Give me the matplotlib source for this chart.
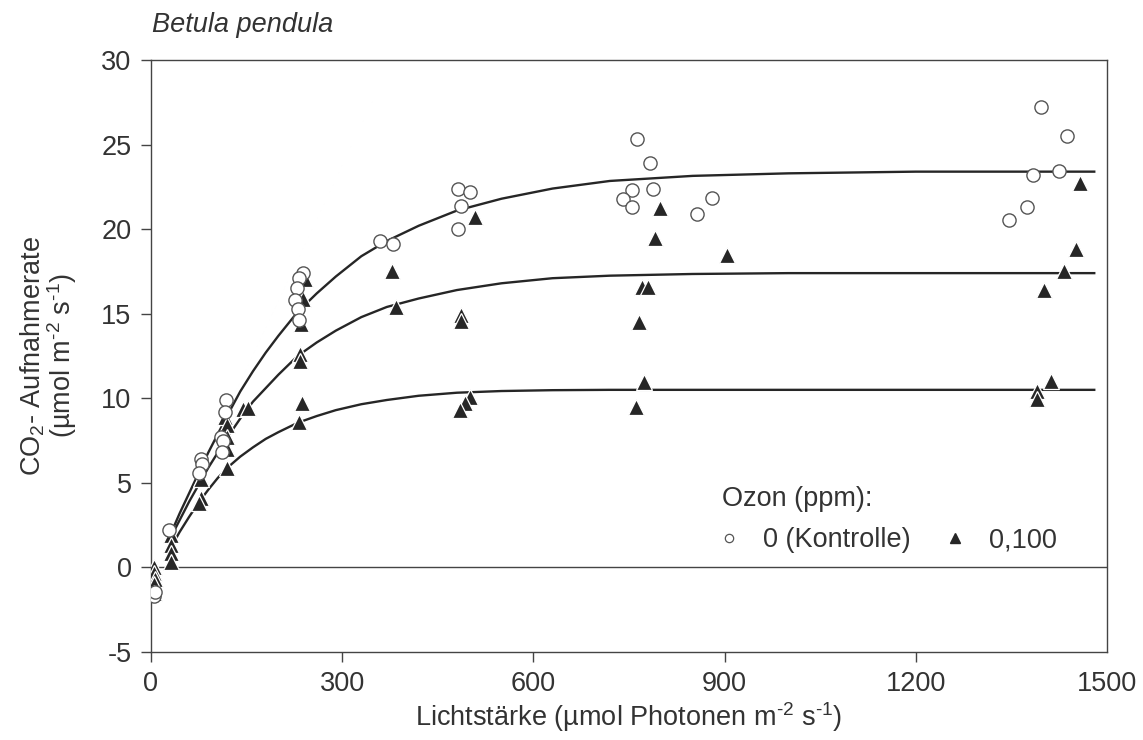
import matplotlib
matplotlib.use("Agg")
import matplotlib.pyplot as plt
from matplotlib.lines import Line2D

plt.rcParams["font.family"] = ["Liberation Sans", "DejaVu Sans"]
plt.rcParams["mathtext.fontset"] = "custom"
plt.rcParams["mathtext.rm"] = "Liberation Sans"
plt.rcParams["mathtext.it"] = "Liberation Sans:italic"
plt.rcParams["axes.unicode_minus"] = False

INK = "#262626"
TXT = "#333333"
FS = 19.5

# Measured uptake, control (0 ppm ozone)
ctrl_x = [5, 6, 29, 78, 80, 76, 118, 116, 110, 113, 112,
          239, 233, 229, 226, 231, 233, 359, 380,
          482, 500, 486, 482,
          763, 783, 754, 787, 740, 754, 856, 881,
          1397, 1438, 1384, 1425, 1374, 1347]
ctrl_y = [-1.7, -1.45, 2.2, 6.4, 6.1, 5.6, 9.9, 9.2, 7.7, 7.5, 6.8,
          17.4, 17.1, 16.5, 15.8, 15.3, 14.6, 19.3, 19.15,
          22.4, 22.2, 21.35, 20.0,
          25.35, 23.9, 22.3, 22.4, 21.8, 21.3, 20.9, 21.85,
          27.25, 25.5, 23.2, 23.45, 21.3, 20.55]

# Measured uptake, 0.100 ppm ozone
ozon_x = [5, 5, 6, 4, 5, 32, 32, 32, 32, 78, 78, 76,
          116, 120, 120, 120, 119, 145, 152,
          242, 239, 236, 234, 234, 237, 233, 378, 385,
          508, 487, 487, 500, 493, 485,
          799, 791, 904, 770, 780, 766, 773, 761,
          1457, 1452, 1433, 1401, 1412, 1390, 1390]
ozon_y = [0.0, -0.35, -0.7, -1.0, -1.5, 1.9, 1.35, 0.85, 0.35, 5.2, 4.1, 3.8,
          8.9, 8.4, 7.7, 7.0, 5.85, 9.35, 9.4,
          17.05, 15.9, 14.4, 12.6, 12.2, 9.7, 8.6, 17.55, 15.4,
          20.7, 14.9, 14.55, 10.05, 9.75, 9.3,
          21.25, 19.45, 18.5, 16.6, 16.6, 14.5, 10.95, 9.5,
          22.7, 18.85, 17.5, 16.4, 11.0, 10.45, 9.95]

# Fitted light-response curves
fit_x = [30, 45, 60, 75, 90, 105, 120, 140, 160, 180, 200, 230, 260, 290,
         330, 370, 420, 480, 550, 630, 720, 850, 1000, 1200, 1480]
fit_top = [1.9, 3.2, 4.4, 5.6, 6.8, 7.9, 9.0, 10.4, 11.6, 12.7, 13.7, 15.1, 16.2, 17.2,
           18.4, 19.3, 20.2, 21.1, 21.8, 22.4, 22.85, 23.15, 23.3, 23.4, 23.4]
fit_mid = [1.7, 2.8, 3.9, 4.9, 5.9, 6.8, 7.7, 8.8, 9.8, 10.6, 11.4, 12.5, 13.3, 14.0,
           14.8, 15.4, 15.9, 16.4, 16.8, 17.1, 17.25, 17.35, 17.4, 17.4, 17.4]
fit_low = [1.1, 2.1, 3.0, 3.85, 4.6, 5.3, 5.9, 6.55, 7.1, 7.6, 8.0, 8.55, 8.95, 9.3,
           9.65, 9.9, 10.15, 10.33, 10.43, 10.48, 10.5, 10.5, 10.5, 10.5, 10.5]

x_ticks = [0, 300, 600, 900, 1200, 1500]
y_ticks = [-5, 0, 5, 10, 15, 20, 25, 30]

fig = plt.figure(figsize=(11.43, 7.40), dpi=100)
ax = fig.add_axes([0.1321, 0.1189, 0.8364, 0.80])

ax.axhline(0, color="#444444", lw=1.0, zorder=1)
for fy in (fit_top, fit_mid, fit_low):
    ax.plot(fit_x, fy, color=INK, lw=1.7, zorder=2, solid_joinstyle="round")

ax.plot(ozon_x, ozon_y, ls="none", marker="^", ms=11, mfc=INK,
        mec="white", mew=0.9, zorder=3)
ax.plot(ctrl_x, ctrl_y, ls="none", marker="o", ms=9.5, mfc="white",
        mec="#555555", mew=1.0, zorder=4)

ax.set_xlim(0, 1500)
ax.set_ylim(-5, 30)
ax.set_xticks(x_ticks)
ax.set_yticks(y_ticks)
ax.tick_params(direction="out", length=7, width=1, color="#444444",
               labelsize=FS, labelcolor=TXT, pad=7)
ax.xaxis.get_major_ticks()[-1].tick1line.set_visible(False)
for sp in ax.spines.values():
    sp.set_color("#444444")
    sp.set_linewidth(1.0)

unit = r"m$^{\text{-2}}$ s$^{\text{-1}}$"
ax.set_xlabel("Lichtstärke (µmol Photonen " + unit + ")",
              fontsize=FS, color=TXT, labelpad=2)
ax.set_ylabel("CO$_2$- Aufnahmerate\n(µmol " + unit + ")",
              fontsize=FS, color=TXT, labelpad=16, linespacing=0.95)

fig.text(0.1330, 0.966, "Betula pendula", fontsize=FS, style="italic",
         color=TXT, va="center", ha="left")

handles = [
    Line2D([], [], ls="none", marker="o", ms=6, mfc="white", mec="#555555", mew=0.9),
    Line2D([], [], ls="none", marker="^", ms=7, mfc=INK, mec=INK),
]
leg = ax.legend(handles, ["0 (Kontrolle)", "0,100"], title="Ozon (ppm):",
                ncol=2, frameon=False, fontsize=FS, title_fontsize=FS,
                loc="upper left", bbox_to_anchor=(0.586, 0.298),
                handlelength=0.5, handletextpad=1.0, columnspacing=1.4,
                borderaxespad=0, labelspacing=0.55)
leg._legend_box.align = "left"
for t in leg.get_texts():
    t.set_color(TXT)
leg.get_title().set_color(TXT)

fig.savefig("out.png", dpi=100)
